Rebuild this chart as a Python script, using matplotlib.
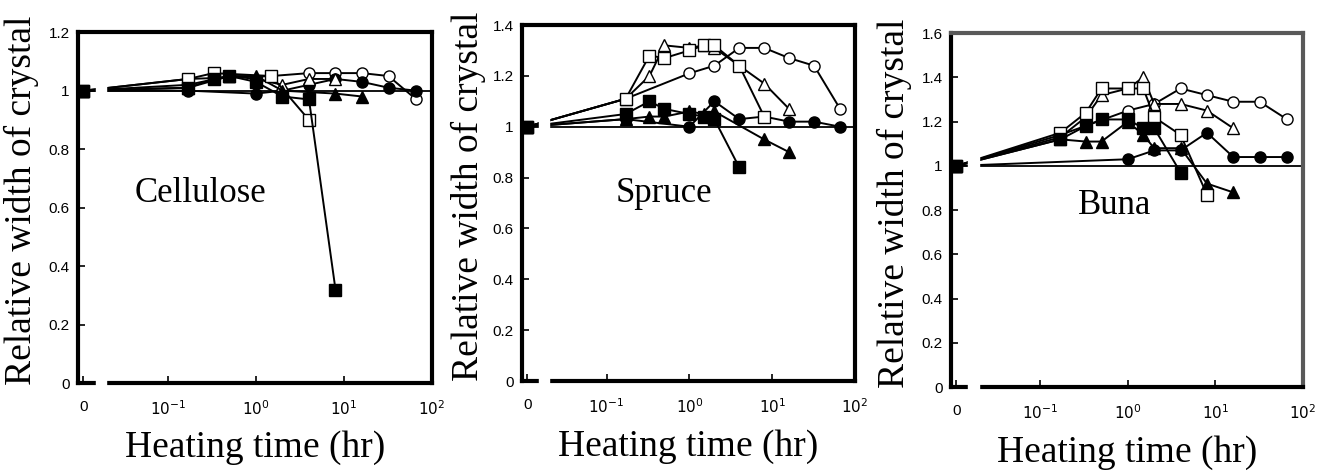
import numpy as np
import matplotlib.pyplot as plt

ZERO = 0.011  # position used for t = 0 on the log axis
GAP = (10**-1.82, 10**-1.70)  # axis break

xtick_vals = [ZERO, 0.1, 1, 10, 100]
xtick_labels = ['0', r'$10^{-1}$', r'$10^{0}$', r'$10^{1}$', r'$10^{2}$']

# Cellulose
cel_oc_t = [0, 0.17, 1.5, 4, 8, 16, 32, 66]
cel_oc_v = [1, 1.04, 1.05, 1.06, 1.06, 1.06, 1.05, 0.97]
cel_fc_t = [0, 0.17, 1, 2, 4, 8, 16, 32, 66]
cel_fc_v = [1, 1.0, 0.99, 1.0, 1.02, 1.04, 1.03, 1.01, 1.0]
cel_ot_t = [0, 0.17, 0.5, 1, 2, 4, 8]
cel_ot_v = [1, 1.02, 1.05, 1.04, 1.02, 1.04, 1.04]
cel_ft_t = [0, 0.17, 0.5, 1, 2, 8, 16]
cel_ft_v = [1, 1.01, 1.05, 1.05, 1.0, 0.99, 0.98]
cel_os_t = [0, 0.17, 0.33, 1.5, 4]
cel_os_v = [1, 1.04, 1.06, 1.05, 0.90]
cel_fs_t = [0, 0.17, 0.33, 0.5, 1, 2, 4, 8]
cel_fs_v = [1, 1.01, 1.04, 1.05, 1.03, 0.98, 0.97, 0.32]

# Spruce
spr_oc_t = [0, 0.17, 1, 2, 4, 8, 16, 32, 66]
spr_oc_v = [1, 1.11, 1.21, 1.24, 1.31, 1.31, 1.27, 1.24, 1.07]
spr_fc_t = [0, 0.17, 1, 2, 4, 8, 16, 32, 66]
spr_fc_v = [1, 1.03, 1.0, 1.10, 1.03, 1.04, 1.02, 1.02, 1.0]
spr_ot_t = [0, 0.17, 0.33, 0.5, 1, 1.5, 2, 8, 16]
spr_ot_v = [1, 1.11, 1.20, 1.32, 1.31, 1.32, 1.31, 1.17, 1.07]
spr_ft_t = [0, 0.17, 0.33, 0.5, 1, 1.5, 2, 8, 16]
spr_ft_v = [1, 1.03, 1.04, 1.04, 1.06, 1.05, 1.06, 0.95, 0.90]
spr_os_t = [0, 0.17, 0.33, 0.5, 1, 1.5, 2, 4, 8]
spr_os_v = [1, 1.11, 1.28, 1.27, 1.30, 1.32, 1.32, 1.24, 1.04]
spr_fs_t = [0, 0.17, 0.33, 0.5, 1, 1.5, 2, 4]
spr_fs_v = [1, 1.05, 1.10, 1.07, 1.05, 1.04, 1.03, 0.84]

# Buna
bun_oc_t = [0, 0.17, 1, 2, 4, 8, 16, 32, 66]
bun_oc_v = [1, 1.14, 1.25, 1.28, 1.35, 1.32, 1.29, 1.29, 1.21]
bun_fc_t = [0, 1, 2, 4, 8, 16, 32, 66]
bun_fc_v = [1, 1.03, 1.07, 1.07, 1.15, 1.04, 1.04, 1.04]
bun_ot_t = [0, 0.17, 0.33, 0.5, 1, 1.5, 2, 4, 8, 16]
bun_ot_v = [1, 1.13, 1.22, 1.32, 1.35, 1.40, 1.28, 1.28, 1.25, 1.17]
bun_ft_t = [0, 0.17, 0.33, 0.5, 1, 1.5, 2, 4, 8, 16]
bun_ft_v = [1, 1.12, 1.11, 1.11, 1.20, 1.14, 1.08, 1.08, 0.92, 0.88]
bun_os_t = [0, 0.17, 0.33, 0.5, 1, 1.5, 2, 4, 8]
bun_os_v = [1, 1.15, 1.24, 1.35, 1.35, 1.35, 1.22, 1.14, 0.87]
bun_fs_t = [0, 0.17, 0.33, 0.5, 1, 1.5, 2, 4]
bun_fs_v = [1, 1.12, 1.18, 1.21, 1.21, 1.17, 1.17, 0.97]

styles = [('o', 'white'), ('o', 'black'), ('^', 'white'),
          ('^', 'black'), ('s', 'white'), ('s', 'black')]


def panel(ax, series, ymax, name, name_xy, frame_color='black'):
    for (t, v), (marker, face) in zip(series, styles):
        t = [ZERO if x == 0 else x for x in t]
        ax.plot(t, v, color='black', lw=1.4, marker=marker, markersize=8,
                markerfacecolor=face, markeredgecolor='black', markeredgewidth=1.0, zorder=3)
    ax.axhline(1, color='black', lw=1.3, zorder=2)

    ax.set_xscale('log')
    ax.set_xlim(10**-2.02, 100)
    ax.set_ylim(0, ymax)
    ax.set_xticks(xtick_vals)
    ax.set_xticklabels(xtick_labels)
    ax.minorticks_off()
    yt = np.arange(0, ymax + 0.01, 0.2)
    ax.set_yticks(yt)
    ax.set_yticklabels(['%g' % round(y, 1) for y in yt])
    ax.tick_params(direction='in', length=5, width=1.2, labelsize=11)
    ax.tick_params(axis='x', pad=12)
    ax.tick_params(axis='y', pad=6)
    for lab in ax.get_xticklabels() + ax.get_yticklabels():
        lab.set_fontfamily('Liberation Sans')

    for side in ['left', 'bottom', 'top', 'right']:
        ax.spines[side].set_linewidth(3)
    ax.spines['top'].set_color(frame_color)
    ax.spines['right'].set_color(frame_color)

    # break in the axis near t = 0
    ax.axvspan(GAP[0], GAP[1], ymin=-0.03, ymax=0.97, color='white',
               zorder=5, clip_on=False)

    ax.text(name_xy[0], name_xy[1], name, transform=ax.transAxes,
            ha='center', va='center', fontsize=25, family='Liberation Serif')
    ax.text(-0.16, 0.52, 'Relative width of crystal', transform=ax.transAxes,
            rotation=90, ha='center', va='center', fontsize=27, family='Liberation Serif')
    ax.text(0.5, -0.185, 'Heating time (hr)', transform=ax.transAxes,
            ha='center', va='center', fontsize=27, family='Liberation Serif')


fig = plt.figure(figsize=(13.23, 4.73), dpi=100)
ax1 = fig.add_axes([0.059, 0.190, 0.2676, 0.742])
ax2 = fig.add_axes([0.3946, 0.1945, 0.2517, 0.7526])
ax3 = fig.add_axes([0.7188, 0.1818, 0.2661, 0.748])

panel(ax1, [(cel_oc_t, cel_oc_v), (cel_fc_t, cel_fc_v), (cel_ot_t, cel_ot_v),
            (cel_ft_t, cel_ft_v), (cel_os_t, cel_os_v), (cel_fs_t, cel_fs_v)],
      1.2, 'Cellulose', (0.347, 0.54))
panel(ax2, [(spr_oc_t, spr_oc_v), (spr_fc_t, spr_fc_v), (spr_ot_t, spr_ot_v),
            (spr_ft_t, spr_ft_v), (spr_os_t, spr_os_v), (spr_fs_t, spr_fs_v)],
      1.4, 'Spruce', (0.426, 0.528))
panel(ax3, [(bun_oc_t, bun_oc_v), (bun_fc_t, bun_fc_v), (bun_ot_t, bun_ot_v),
            (bun_ft_t, bun_ft_v), (bun_os_t, bun_os_v), (bun_fs_t, bun_fs_v)],
      1.6, 'Buna', (0.466, 0.514), frame_color='0.35')

fig.savefig('out.png', dpi=100)
